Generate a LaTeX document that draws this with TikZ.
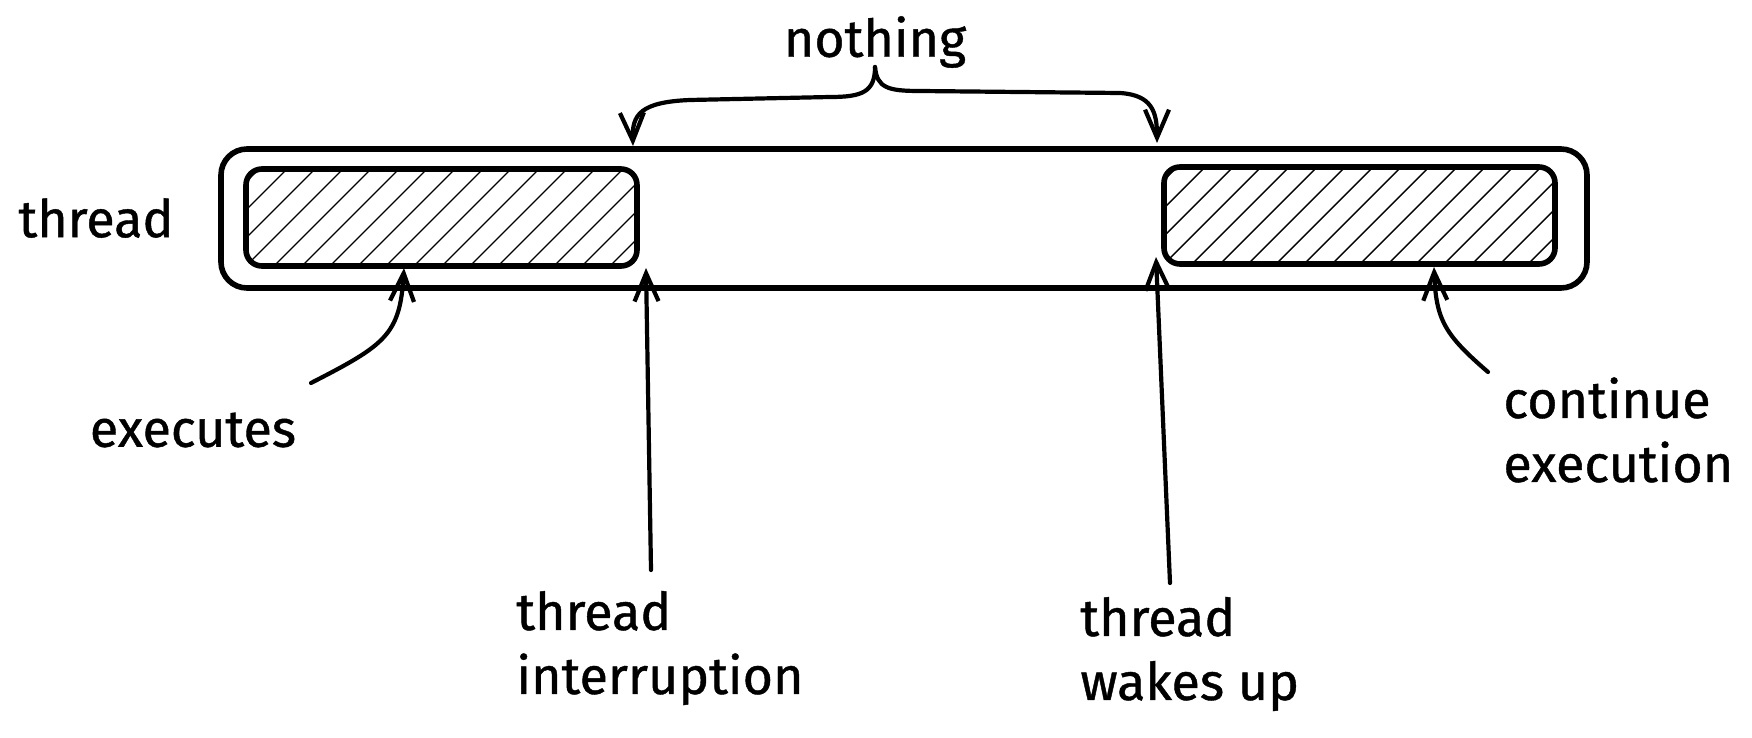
\documentclass[tikz,border=0pt]{standalone}
\usepackage{fontspec}
\setmainfont{Fira Sans}[FakeBold=0.8]
\usetikzlibrary{arrows.meta}
\tikzset{
  lbl/.style={font=\fontsize{26}{32}\selectfont, inner sep=0pt, align=left},
  boxo/.style={draw, line width=2.8pt, rounded corners=13pt, minimum width=683pt, minimum height=69.5pt, inner sep=0pt},
  boxi/.style={draw, line width=2.8pt, rounded corners=8pt, minimum width=195.5pt, minimum height=48.5pt, inner sep=0pt,
    path picture={\foreach \k in {-4,...,14}{\draw[line width=0.7pt] ([xshift=\k*14pt]path picture bounding box.south west) -- ++(60pt,60pt);}}},
  conn/.style={line width=2.1pt, line cap=round, -{Straight Barb[length=14pt,width=12pt,line width=2.1pt]}},
}
\begin{document}
\begin{tikzpicture}[x=0.5pt,y=-0.5pt]
\useasboundingbox (0,0) rectangle (1752,738);
\node[boxo] (outer) at (904,218.5) {};
\node[boxi] (inL) at (441.5,217.5) {};
\node[boxi] (inR) at (1359.5,215.5) {};
\node[lbl] (thread) at (96,218) {thread};
\node[lbl] (nothing) at (875,42) {nothing};
\node[lbl] (exec) at (193,430) {executes};
\node[lbl, anchor=west] (intr) at (516,648) {thread\\interruption};
\node[lbl, anchor=west] (wake) at (1080,654) {thread\\wakes up};
\node[lbl, anchor=west] (cont) at (1503,430) {continue\\execution};
% brace
\coordinate (bt) at (875,67);
\coordinate (bl) at (633,146);
\coordinate (br) at (1157,143);
\draw[conn] (bt) .. controls (875,92) and (862,97) .. (830,97) -- (690,100) .. controls (640,102) and (632,115) .. (bl);
\draw[conn] (bt) .. controls (877,88) and (888,91) .. (920,91) -- (1120,93) .. controls (1152,95) and (1157,112) .. (br);
% arrows
\coordinate (e0) at (311,383);
\coordinate (e1) at (404,268);
\draw[conn] (e0) .. controls (385,345) and (400,335) .. (e1);
\coordinate (i0) at (651,570);
\coordinate (i1) at (646,268);
\draw[conn] (i0) -- (i1);
\coordinate (w0) at (1170,583);
\coordinate (w1) at (1156,257);
\draw[conn] (w0) -- (w1);
\coordinate (c0) at (1488,372);
\coordinate (c1) at (1434,267);
\draw[conn] (c0) .. controls (1445,335) and (1436,320) .. (c1);
\end{tikzpicture}
\end{document}
